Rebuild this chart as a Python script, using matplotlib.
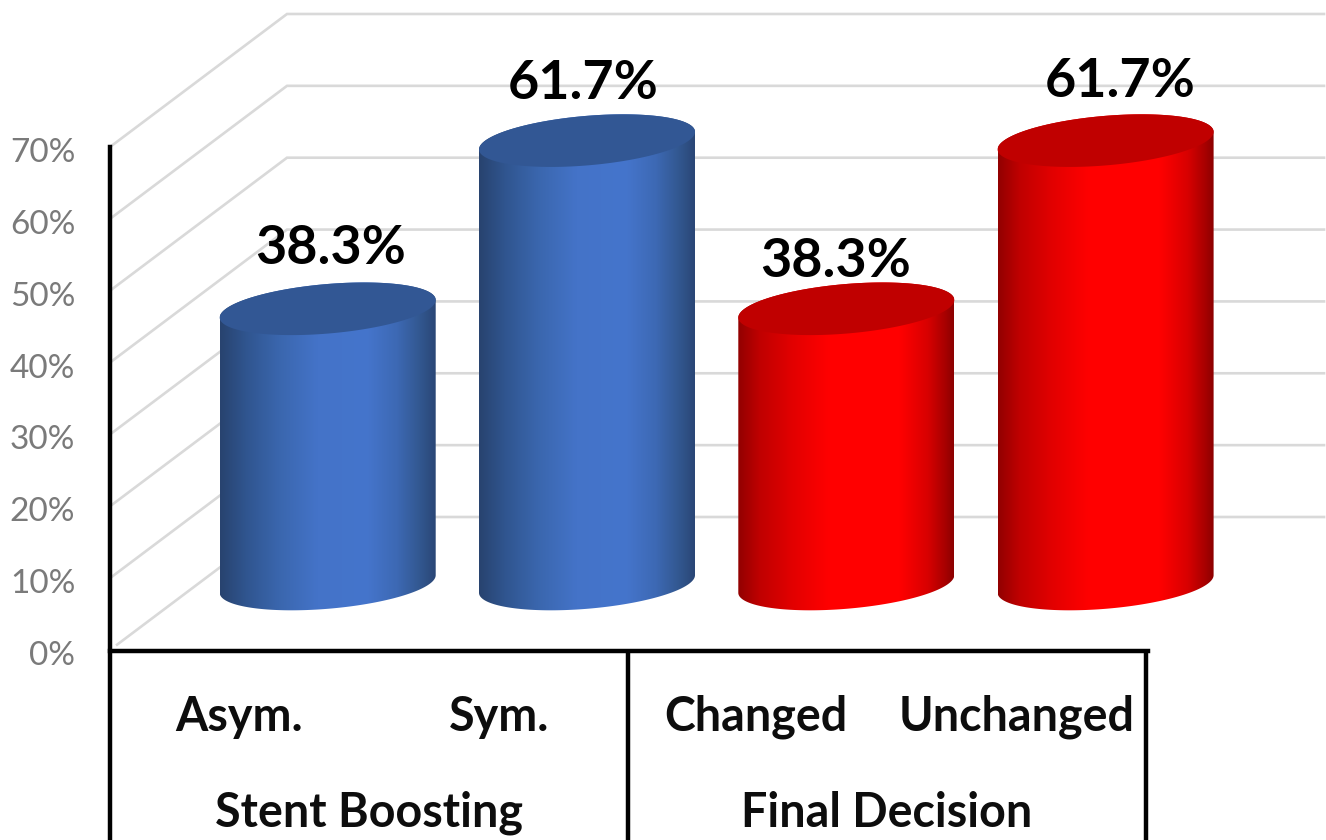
import numpy as np
import matplotlib
matplotlib.use("Agg")
import matplotlib.pyplot as plt
from matplotlib.colors import LinearSegmentedColormap
from matplotlib.patches import Polygon
from matplotlib.transforms import ScaledTranslation

plt.rcParams['font.family'] = ['Lato', 'DejaVu Sans']

# Chart data
categories = ["Asym.", "Sym.", "Changed", "Unchanged"]
values = [38.3, 61.7, 38.3, 61.7]
groups = ["Stent Boosting", "Final Decision"]
y_ticks = [0, 10, 20, 30, 40, 50, 60, 70]

# Styling and 3D projection parameters
W, H = 1326, 840
PX_PER_CAT = 259.3
PX_PER_PCT = 7.186
X0_PX, Y0_PX = 327.7, 650.0
RADIUS = 108.0 / PX_PER_CAT
TILT = 8.8 / PX_PER_PCT
MINOR = 24.8 / PX_PER_PCT
FLOOR = 66.0 / PX_PER_PCT
DEPTH_X = 177.0 / PX_PER_CAT
DEPTH_Y = 133.0 / PX_PER_PCT
GRID = "#d9d9d9"
TICK = "#7a7a7a"


def px(x):
    return (x - X0_PX) / PX_PER_CAT


def py(y):
    return (Y0_PX - y) / PX_PER_PCT


blue_map = LinearSegmentedColormap.from_list("blue_wall", [
    (0.0, "#28436f"), (0.12, "#30558f"), (0.27, "#3a66ad"), (0.45, "#4473c8"),
    (0.68, "#4575cc"), (0.82, "#3d69b4"), (0.93, "#32578f"), (1.0, "#2a4676")])
red_map = LinearSegmentedColormap.from_list("red_wall", [
    (0.0, "#920000"), (0.10, "#c00000"), (0.25, "#e20000"), (0.42, "#ff0000"),
    (0.75, "#ff0000"), (0.88, "#d80000"), (0.96, "#a80000"), (1.0, "#8c0000")])
wall_maps = [blue_map, blue_map, red_map, red_map]
cap_colors = ["#325794", "#325794", "#c00000", "#c00000"]

fig = plt.figure(figsize=(W / 100, H / 100), dpi=100)
ax = fig.add_axes([0, 0, 1, 1])
xlim = (px(0), px(W))
ylim = (py(H), py(0))


def ellipse(cx, level, t):
    return cx + RADIUS * np.cos(t), level + TILT * np.cos(t) + MINOR * np.sin(t)


# Back wall and side wall gridlines
x_front, x_back, x_right = px(110), px(110) + DEPTH_X, px(1324)
for tick in y_ticks:
    start = x_front + 0.04 * DEPTH_X if tick == 0 else x_front
    ystart = tick + 0.04 * DEPTH_Y if tick == 0 else tick
    ax.plot([start, x_back, x_right], [ystart, tick + DEPTH_Y, tick + DEPTH_Y],
            color=GRID, lw=1.9, solid_joinstyle="miter", zorder=1)

# Cylinders
for i, (value, cmap, cap) in enumerate(zip(values, wall_maps, cap_colors)):
    low = FLOOR
    high = FLOOR + value
    tb = np.linspace(np.pi, 2 * np.pi, 120)
    tt = np.linspace(0, np.pi, 120)
    bx, by = ellipse(i, low, tb)
    ux, uy = ellipse(i, high, tt)
    outline = np.column_stack([np.r_[bx, ux], np.r_[by, uy]])
    wall = Polygon(outline, closed=True, transform=ax.transData, fc="none", ec="none")
    ax.add_patch(wall)
    gradient = np.linspace(0, 1, 256).reshape(1, -1)
    img = ax.imshow(gradient, cmap=cmap, aspect="auto", interpolation="bilinear",
                    extent=(i - RADIUS, i + RADIUS, low - 5, high + 5), zorder=3)
    img.set_clip_path(wall)
    t = np.linspace(0, 2 * np.pi, 240)
    ex, ey = ellipse(i, high, t)
    ax.fill(ex, ey, color=cap, lw=0, zorder=4)

ax.set_xlim(xlim)
ax.set_ylim(ylim)

# Axis lines and the two-level category frame
for name in ("top", "right"):
    ax.spines[name].set_visible(False)
ax.spines["left"].set_position(("data", px(110)))
ax.spines["left"].set_bounds(ylim[0], 70)
ax.spines["bottom"].set_position(("data", py(651)))
ax.spines["bottom"].set_bounds(px(110), px(1148))
for name in ("left", "bottom"):
    ax.spines[name].set_linewidth(3.2)
    ax.spines[name].set_color("black")
    ax.spines[name].set_zorder(6)
ax.patch.set_alpha(0)
for frame_x in (628, 1146):
    ax.plot([px(frame_x)] * 2, [py(651), ylim[0]], color="black", lw=3.2, zorder=6,
            solid_capstyle="butt")

# Value axis labels
ax.set_yticks(y_ticks)
ax.set_yticklabels([f"{tick}%" for tick in y_ticks], fontsize=24, color=TICK)
ax.tick_params(axis="y", length=0, pad=25)
nudge = ScaledTranslation(0, -3 / 100, fig.dpi_scale_trans)
for lab in ax.get_yticklabels():
    lab.set_transform(lab.get_transform() + nudge)

# Category labels
cat_x_px = [239, 499, 756, 1017]
ax.set_xticks([])
for x_pos, name in zip(cat_x_px, categories):
    ax.text(px(x_pos), py(717), name, ha="center", va="center", fontsize=33.6,
            fontweight="bold", color="#0d0d0d", zorder=7)
group_x_px = [369, 887]
for x_pos, name in zip(group_x_px, groups):
    ax.text(px(x_pos), py(813), name, ha="center", va="center", fontsize=33.6,
            fontweight="bold", color="#0d0d0d", zorder=7)

# Value labels above the bars
label_offsets = [(3, 60), (-4, 57), (-11, 47), (15, 59)]
for i, (value, off) in enumerate(zip(values, label_offsets)):
    ax.annotate(f"{value:.1f}%", xy=(i, FLOOR + value), xytext=(off[0] * 0.72, off[1] * 0.72),
                textcoords="offset points", ha="center", va="center", fontsize=38.8,
                fontweight="bold", color="black", zorder=8)

fig.savefig("out.png", dpi=100, facecolor="white")
